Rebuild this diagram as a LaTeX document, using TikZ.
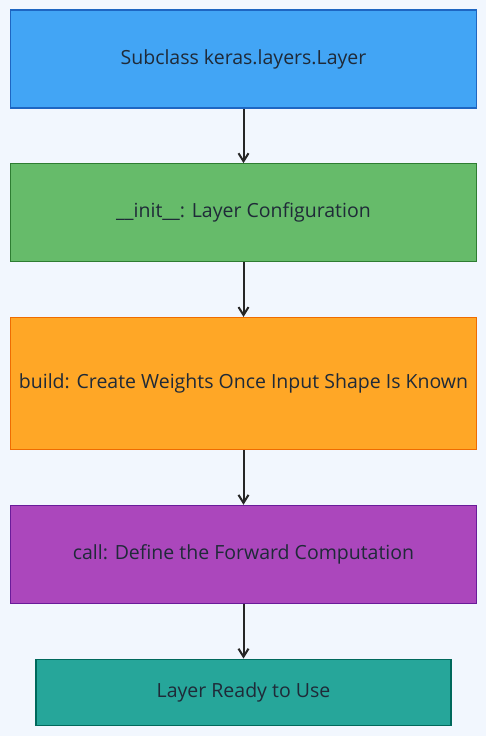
\documentclass[tikz,border=0pt]{standalone}
\usepackage{fontspec}
\setmainfont{Open Sans}
\usepackage{tikz}
\usetikzlibrary{positioning}
\usetikzlibrary{arrows.meta}
\definecolor{pagebg}{HTML}{F2F7FE}
\definecolor{inktext}{HTML}{1F2A38}
\definecolor{bluefill}{HTML}{42A5F5}
\definecolor{blueline}{HTML}{1E66C2}
\definecolor{greenfill}{HTML}{66BB6A}
\definecolor{greenline}{HTML}{2E7D32}
\definecolor{orangefill}{HTML}{FFA726}
\definecolor{orangeline}{HTML}{EF6C00}
\definecolor{purplefill}{HTML}{AB47BC}
\definecolor{purpleline}{HTML}{6A1B9A}
\definecolor{tealfill}{HTML}{26A69A}
\definecolor{tealline}{HTML}{00695C}
\tikzset{
  stepbox/.style={draw, line width=1.3pt, rectangle, minimum width=466pt,
    minimum height=98pt, inner sep=0pt, text=inktext,
    font=\fontsize{19.5}{22}\selectfont},
  flow/.style={->, >={Straight Barb[length=8pt,width=10pt]}, line width=2pt, draw=black!85},
}
\begin{document}
\begin{tikzpicture}[x=1pt, y=1pt, node distance=54.5pt]
\fill[pagebg] (0,0) rectangle (486,-736);
\useasboundingbox (0,0) rectangle (486,-736);
\node[stepbox, fill=bluefill, draw=blueline] (subclass) at (243.5,-59) {Subclass keras.layers.Layer};
\node[stepbox, fill=greenfill, draw=greenline, below=of subclass] (init) {\_\_init\_\_: Layer Configuration};
\node[stepbox, fill=orangefill, draw=orangeline, minimum height=132pt, below=of init] (build) {build: Create Weights Once Input Shape Is Known};
\node[stepbox, fill=purplefill, draw=purpleline, below=of build] (call) {call: Define the Forward Computation};
\node[stepbox, fill=tealfill, draw=tealline, minimum width=415pt, minimum height=66pt, below=of call] (ready) {Layer Ready to Use};
\draw[flow] (subclass) -- (init);
\draw[flow] (init) -- (build);
\draw[flow] (build) -- (call);
\draw[flow] (call) -- (ready);
\end{tikzpicture}
\end{document}
